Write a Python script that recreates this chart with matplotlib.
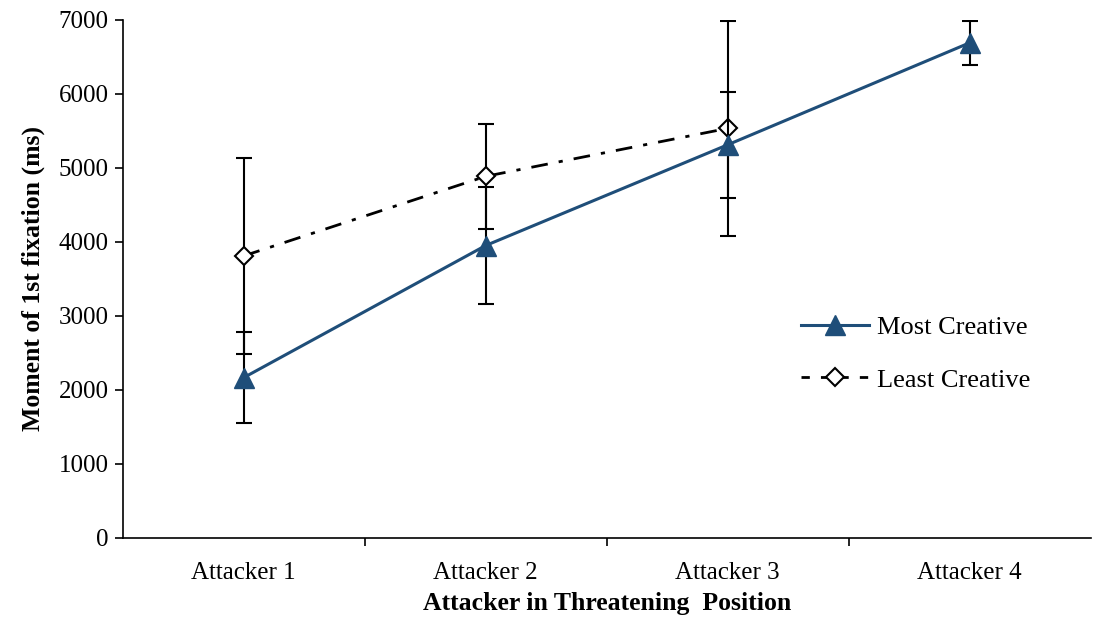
import numpy as np
import matplotlib.pyplot as plt
from matplotlib.lines import Line2D
from matplotlib.ticker import FixedLocator, NullFormatter

plt.rcParams['font.family'] = ['Liberation Serif', 'DejaVu Serif']

categories = ['Attacker 1', 'Attacker 2', 'Attacker 3', 'Attacker 4']
most = [2165, 3950, 5311, 6689]
most_err = [615, 790, 716, 297]
least = [3810, 4885, 5533]
least_err = [1325, 710, 1452]

navy = '#1F4E79'
x = np.arange(len(categories))

fig = plt.figure(figsize=(10.95, 6.19), dpi=100)
ax = fig.add_axes([0.112, 0.131, 0.884, 0.837])

ax.errorbar(x[:len(least)], least, yerr=least_err, color='black', ecolor='black',
            linestyle=(0, (6, 4, 1.5, 4)), linewidth=2, marker='D', markersize=9,
            markerfacecolor='white', markeredgecolor='black', markeredgewidth=1.5,
            elinewidth=1.5, capsize=6, capthick=1.5, zorder=3)
ax.errorbar(x, most, yerr=most_err, color=navy, ecolor='black',
            linestyle='-', linewidth=2.2, marker='^', markersize=14,
            markerfacecolor=navy, markeredgecolor=navy,
            elinewidth=1.5, capsize=6, capthick=1.5, zorder=4)

ax.set_xlim(-0.5, 3.5)
ax.set_ylim(0, 7000)
ax.set_yticks(range(0, 7001, 1000))
ax.set_xticks(x)
ax.set_xticklabels(categories)
ax.xaxis.set_minor_locator(FixedLocator([0.5, 1.5, 2.5]))
ax.xaxis.set_minor_formatter(NullFormatter())
ax.tick_params(axis='x', which='major', length=0, labelsize=18, pad=17)
ax.tick_params(axis='x', which='minor', length=6, width=1.2, direction='out')
ax.tick_params(axis='y', length=6, width=1.2, direction='out', labelsize=18, pad=4)

for s in ['top', 'right']:
    ax.spines[s].set_visible(False)
for s in ['left', 'bottom']:
    ax.spines[s].set_linewidth(1.2)

ax.set_xlabel('Attacker in Threatening  Position', fontsize=18.5, fontweight='bold', labelpad=6)
ax.set_ylabel('Moment of 1st fixation (ms)', fontsize=18.5, fontweight='bold', labelpad=10)

handles = [
    Line2D([], [], color=navy, linewidth=2.2, marker='^', markersize=14),
    Line2D([], [], color='black', linewidth=2, linestyle=(0, (3, 4)), marker='D',
           markersize=9, markerfacecolor='white', markeredgewidth=1.5),
]
ax.legend(handles, ['Most Creative', 'Least Creative'], loc='upper left',
          bbox_to_anchor=(0.676, 0.475), frameon=False, fontsize=19,
          handlelength=2.6, handletextpad=0.3, labelspacing=1.1)

fig.savefig('out.png', dpi=100)
